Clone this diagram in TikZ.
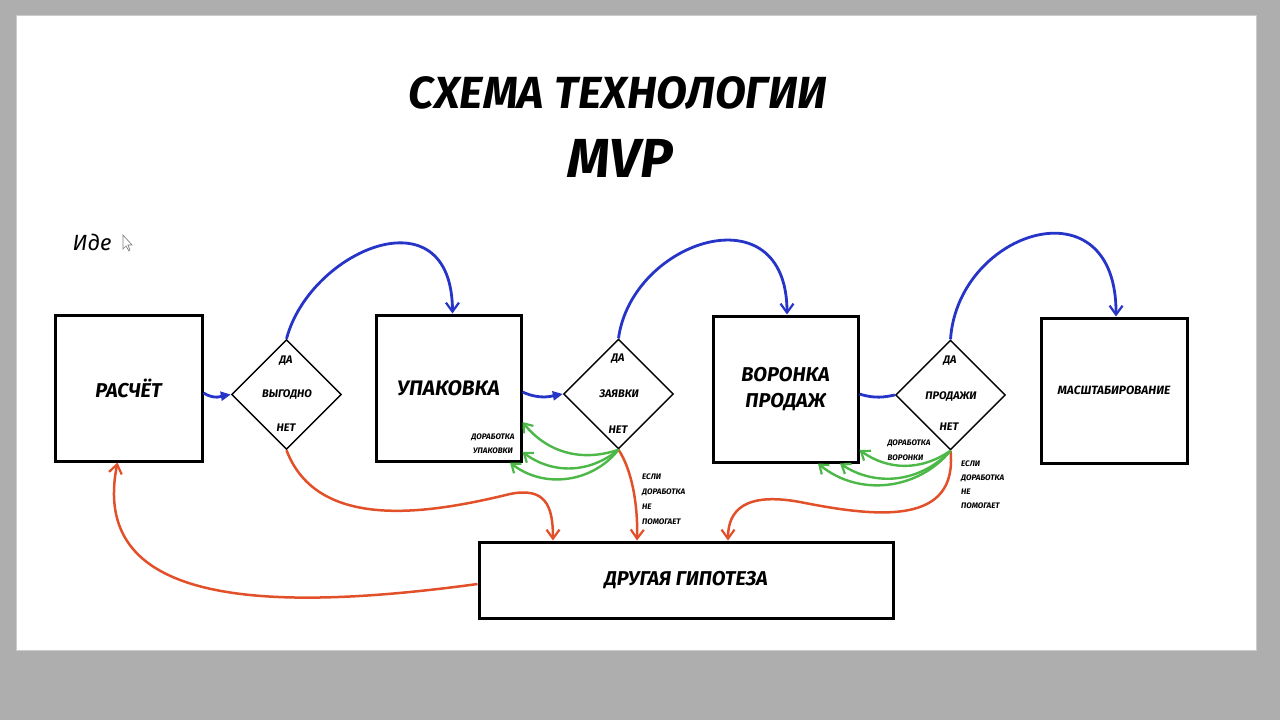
\documentclass[tikz,border=0pt]{standalone}
\usepackage{fontspec}
\setmainfont{Fira Sans}
\usetikzlibrary{arrows.meta,shapes.geometric}
\definecolor{bggray}{HTML}{AEAEAE}
\definecolor{bl}{HTML}{2634C8}
\definecolor{rd}{HTML}{E2502A}
\definecolor{gr}{HTML}{4CB848}
\newcommand{\fs}[1]{\fontsize{#1}{#1}\selectfont}
\begin{document}
\begin{tikzpicture}[x=1pt,y=-1pt,
  lbl/.style={font=\bfseries\itshape, inner sep=0pt},
  box/.style={draw, line width=3pt, inner sep=0pt, font=\bfseries\itshape},
  dia/.style={draw, diamond, line width=1.4pt, inner sep=0pt, minimum width=110pt, minimum height=110pt},
  blarrow/.style={draw=bl, line width=2.8pt},
  rdarrow/.style={draw=rd, line width=2.5pt, -{Straight Barb[length=9pt,width=13pt,line width=2.2pt]}},
  grarrow/.style={draw=gr, line width=2.4pt, -{Straight Barb[length=8pt,width=12pt,line width=2.2pt]}},
  bltip/.style={-{Straight Barb[length=9pt,width=13pt,line width=2.2pt]}},
  blfill/.style={-{Triangle[length=10pt,width=9pt]}}
]
\useasboundingbox (0,0) rectangle (1280,720);
\fill[bggray] (0,0) rectangle (1280,720);
\fill[white] (16,15) rectangle (1256,650);
\draw[gray!40, line width=0.6pt] (16,15) rectangle (1256,650);

% title
\node[lbl] (title) at (618,93) {\fs{45}СХЕМА ТЕХНОЛОГИИ};
\node[lbl] (mvp) at (620,158) {\fs{55}MVP};

% handwritten
\node[inner sep=0pt, font=\itshape] (idea) at (92,242) {\fs{22}Иде};
\draw[gray, line width=0.7pt, fill=white] (123,235) -- (123,249) -- (126,246) -- (129,251) -- (130,250) -- (128,245) -- (132,245) -- cycle;

% boxes
\node[box, minimum width=147pt, minimum height=146pt] (r1) at (128.5,388) {\fs{20}РАСЧЁТ};
\node[box, minimum width=145pt, minimum height=146pt] (r2) at (448.5,388) {\fs{21}УПАКОВКА};
\node[box, minimum width=145pt, minimum height=146pt, align=center] (r3) at (785.5,389) {\fs{20}ВОРОНКА\\[10pt]\fs{20}ПРОДАЖ};
\node[box, minimum width=146pt, minimum height=145pt] (r4) at (1114,390.5) {\fs{12}МАСШТАБИРОВАНИЕ};
\node[box, minimum width=414pt, minimum height=76pt] (r5) at (686,580) {\fs{20}ДРУГАЯ ГИПОТЕЗА};

% diamonds
\node[dia] (d1) at (286.5,394.5) {};
\node[dia] (d2) at (618.5,394) {};
\node[dia] (d3) at (950.5,395) {};

\node[lbl] (d1a) at (286,361) {\fs{11}ДА};
\node[lbl] (d1b) at (287,395) {\fs{11}ВЫГОДНО};
\node[lbl] (d1c) at (286,428) {\fs{11}НЕТ};
\node[lbl] (d2a) at (618,359) {\fs{11}ДА};
\node[lbl] (d2b) at (619,394) {\fs{11}ЗАЯВКИ};
\node[lbl] (d2c) at (618,430) {\fs{11}НЕТ};
\node[lbl] (d3a) at (950,361) {\fs{11}ДА};
\node[lbl] (d3b) at (951,397) {\fs{11}ПРОДАЖИ};
\node[lbl] (d3c) at (949,427) {\fs{11}НЕТ};

% small labels
\node[lbl, align=center] (dor1) at (493,444) {\fs{8}ДОРАБОТКА\\[2pt]\fs{8}УПАКОВКИ};
\node[lbl, align=left] (dor2) at (909,450) {\fs{8}ДОРАБОТКА\\[3pt]\fs{8}ВОРОНКИ};
\node[lbl, align=left, anchor=north west] (esli1) at (642,474) {\fs{8}ЕСЛИ\\[3pt]\fs{8}ДОРАБОТКА\\[3pt]\fs{8}НЕ\\[3pt]\fs{8}ПОМОГАЕТ};
\node[lbl, align=left, anchor=north west] (esli2) at (961,461) {\fs{8}ЕСЛИ\\[2pt]\fs{8}ДОРАБОТКА\\[2pt]\fs{8}НЕ\\[2pt]\fs{8}ПОМОГАЕТ};

% blue connectors
\draw[blarrow, blfill] ([yshift=-5pt]r1.east) .. controls (215,400) and (222,396) .. (d1.west);
\draw[blarrow, bltip] (d1.north) .. controls (310,250) and (452,190) .. ([xshift=4pt]r2.north);
\draw[blarrow, blfill] ([yshift=-4pt]r2.east) .. controls (540,400) and (552,396) .. (d2.west);
\draw[blarrow, bltip] (d2.north) .. controls (632,240) and (787,190) .. ([xshift=1.5pt]r3.north);
\draw[blarrow] ([yshift=-5pt]r3.east) .. controls (875,399) and (885,397) .. (d3.west);
\draw[blarrow, bltip] (d3.north) .. controls (958,230) and (1117,180) .. ([xshift=2pt]r4.north);

% red connectors
\draw[rdarrow] (d1.south) .. controls (318,533) and (432,513) .. (510,494) .. controls (545,487) and (553,505) .. ([xshift=-133pt]r5.north);
\draw[rdarrow] (d2.south) .. controls (632,470) and (638,505) .. ([xshift=-49pt]r5.north);
\draw[rdarrow] (d3.south) .. controls (958,525) and (880,518) .. (800,502) .. controls (745,492) and (728,510) .. ([xshift=42pt]r5.north);
\draw[rdarrow] ([yshift=-4pt]r5.west) .. controls (250,615) and (90,600) .. ([xshift=-11pt]r1.south);

% green connectors
\draw[grarrow] (d2.south) to[bend left=35] ([yshift=-34pt]r2.east);
\draw[grarrow] (d2.south) to[bend left=38] ([yshift=-64pt]r2.east);
\draw[grarrow] (d2.south) to[bend left=45] ([xshift=61.5pt]r2.south);
\draw[grarrow] (d3.south) to[bend left=35] ([yshift=-61pt]r3.east);
\draw[grarrow] (d3.south) to[bend left=40] ([xshift=54.5pt]r3.south);
\draw[grarrow] (d3.south) to[bend left=45] ([xshift=32.5pt]r3.south);
\end{tikzpicture}
\end{document}
